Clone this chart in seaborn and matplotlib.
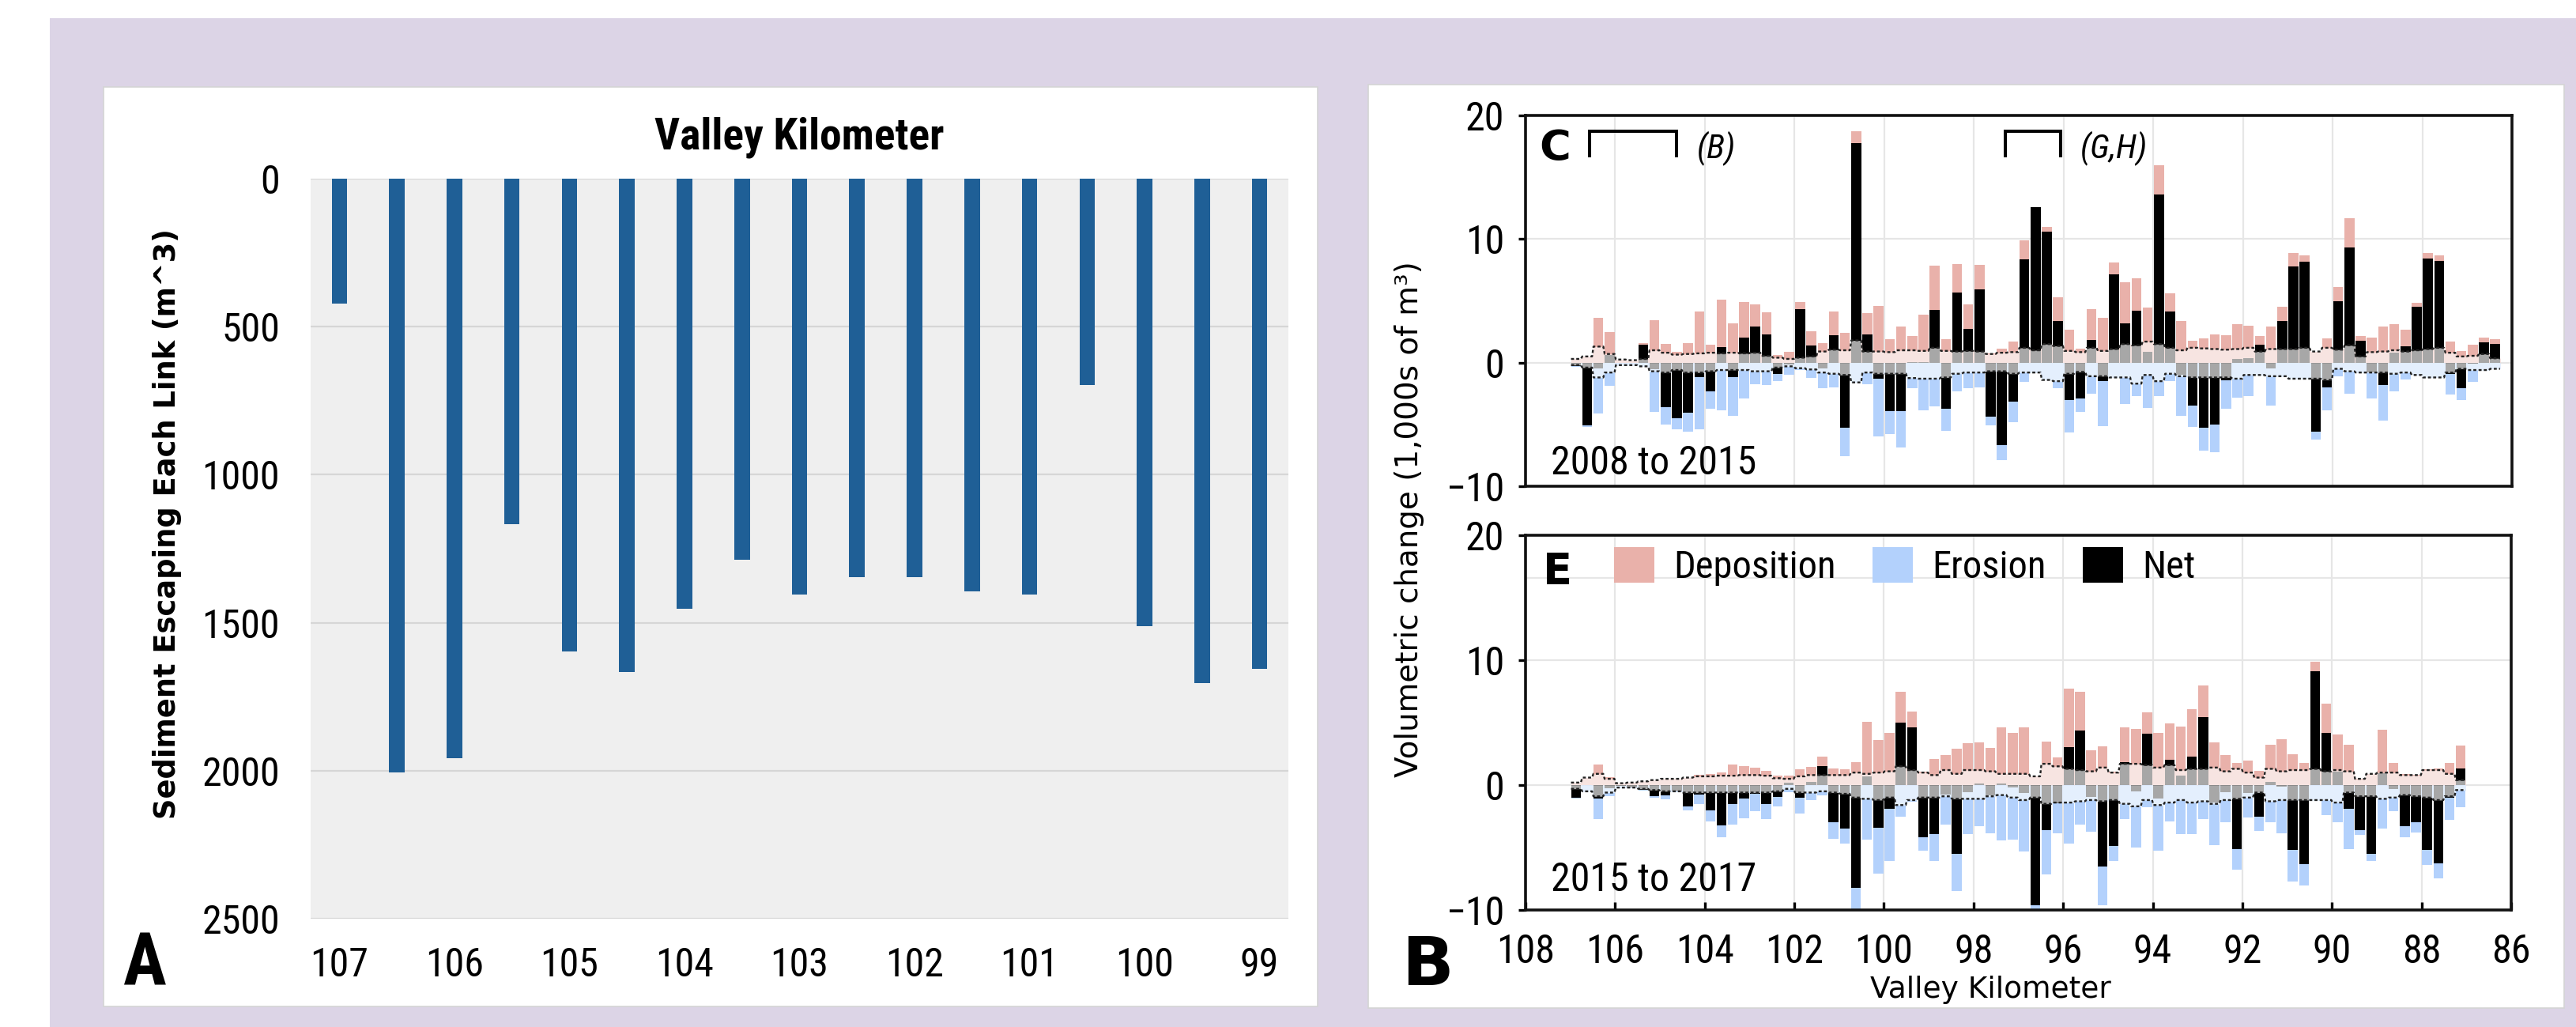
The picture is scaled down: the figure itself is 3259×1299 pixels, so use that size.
import numpy as np
import matplotlib
matplotlib.use("Agg")
import matplotlib.pyplot as plt
from matplotlib import font_manager as fm
from matplotlib.font_manager import FontProperties
import seaborn as sns
from matplotlib.patches import Rectangle, Patch

# ---------------- DATA ----------------
# Panel A: sediment escaping each link (m^3), links every 0.5 valley km
link_km_A = ["107", "106.5", "106", "105.5", "105", "104.5", "104", "103.5", "103",
             "102.5", "102", "101.5", "101", "100.5", "100", "99.5", "99"]
sediment_A = [422, 2005, 1957, 1166, 1597, 1668, 1453, 1287, 1405,
              1345, 1345, 1394, 1405, 697, 1512, 1704, 1656]
tick_labels_A = ["107", "106", "105", "104", "103", "102", "101", "100", "99"]
yticks_A = [0, 500, 1000, 1500, 2000, 2500]

# Panel B, C (2008 to 2015): values in 1,000s of m^3, bins every 0.25 km
km_C = np.round(106.875 - 0.25 * np.arange(83), 3)
dep_C = [0.2, 0.1, 3.65, 2.5, 0.1, 0.1, 1.55, 3.45, 1.5, 0.9, 1.6, 4.15, 1.45, 5.1, 3.15,
         4.9, 4.7, 4.1, 0.6, 0.85, 4.9, 2.55, 1.55, 4.15, 2.4, 18.7, 4.0, 4.6, 1.9, 2.95,
         2.15, 3.9, 7.85, 1.9, 8.0, 4.7, 7.9, 0.75, 1.15, 1.7, 9.9, 12.6, 10.95, 5.3, 2.65,
         1.1, 4.35, 3.65, 8.1, 6.5, 6.8, 4.45, 16.0, 5.6, 3.35, 1.75, 1.95, 2.3, 2.2, 3.1,
         3.0, 2.15, 2.95, 4.5, 8.85, 8.65, 0.7, 1.95, 6.15, 11.7, 2.15, 2.05, 2.9, 3.1,
         2.65, 4.85, 8.85, 8.7, 1.7, 0.95, 1.45, 2.0, 1.9]
ero_C = [-0.35, -5.2, -4.1, -1.9, -0.1, -0.1, -0.1, -4.0, -5.0, -5.4, -5.6, -5.4, -3.7, -3.85,
         -4.3, -2.9, -1.75, -1.8, -1.5, -1.0, -0.6, -1.25, -2.1, -2.0, -7.6, -1.0, -1.75, -6.0,
         -5.8, -6.85, -2.1, -3.85, -3.55, -5.5, -2.35, -2.05, -2.0, -5.05, -7.9, -4.8, -1.55,
         -0.1, -0.35, -2.05, -5.65, -4.0, -2.5, -5.15, -0.95, -3.35, -2.7, -3.65, -2.7, -1.5,
         -4.3, -5.2, -7.15, -7.25, -3.7, -2.85, -2.7, -0.7, -3.45, -1.1, -1.05, -0.5, -6.25,
         -3.85, -1.1, -2.5, -0.4, -2.9, -4.7, -2.3, -1.35, -0.3, -0.4, -0.5, -2.6, -3.05,
         -1.55, -0.35, -0.4]
net_C = [-0.3, -5.1, -0.45, 0.6, 0.0, 0.0, 1.45, -0.55, -3.6, -4.5, -4.05, -1.2, -2.3, 1.25,
         -1.15, 2.0, 2.95, 2.3, -0.9, -0.15, 4.3, 1.4, -0.5, 2.2, -5.25, 17.75, 2.3, -1.3,
         -3.95, -3.95, 0.05, 0.05, 4.25, -3.75, 5.65, 2.7, 5.95, -4.35, -6.7, -3.15, 8.35,
         12.55, 10.6, 3.35, -3.0, -2.9, 1.85, -1.5, 7.15, 3.15, 4.2, 0.85, 13.6, 4.15, -1.0,
         -3.5, -5.25, -5.0, -1.4, 0.3, 0.35, 1.45, -0.5, 3.4, 7.8, 8.15, -5.6, -2.0, 5.0,
         9.3, 1.75, -0.8, -1.8, 0.8, 1.35, 4.55, 8.45, 8.2, -0.9, -2.1, -0.1, 1.65, 1.5]
up_C = [0.3, 0.5, 1.3, 0.7, 0.25, 0.2, 0.3, 1.0, 0.8, 0.65, 0.7, 0.75, 0.8, 0.75, 0.8, 0.75,
        0.8, 0.55, 0.4, 0.3, 0.4, 0.5, 0.9, 1.05, 1.0, 1.8, 0.9, 0.9, 0.85, 1.0, 1.0, 0.95,
        1.2, 0.95, 0.9, 0.95, 0.9, 0.7, 0.8, 0.85, 1.2, 1.0, 1.5, 1.35, 0.95, 0.85, 1.2,
        0.95, 1.1, 1.5, 1.4, 1.7, 1.5, 1.2, 1.0, 1.2, 1.15, 1.1, 1.05, 1.1, 1.2, 0.9, 1.1,
        1.1, 1.1, 1.2, 0.9, 1.2, 1.05, 1.4, 0.5, 0.85, 0.9, 1.0, 0.9, 1.0, 1.1, 1.2, 0.8,
        0.5, 0.55, 0.7, 0.35]
lo_C = [-0.2, -0.4, -1.2, -0.8, -0.2, -0.2, -0.3, -0.7, -0.8, -0.6, -0.8, -0.8, -0.7, -0.6,
        -0.6, -0.6, -0.7, -0.7, -0.4, -0.3, -0.45, -0.55, -0.8, -0.9, -1.0, -1.6, -0.8, -0.9,
        -0.9, -0.9, -1.25, -1.3, -1.3, -1.2, -0.9, -0.8, -0.8, -0.7, -0.7, -0.9, -0.8, -0.8,
        -1.4, -1.5, -0.9, -0.75, -1.1, -1.1, -1.2, -1.2, -1.7, -1.0, -1.5, -0.9, -1.1, -1.2,
        -1.2, -1.2, -1.2, -1.3, -1.0, -1.0, -1.1, -1.1, -1.3, -1.3, -1.3, -1.4, -0.5, -0.7,
        -0.8, -0.8, -0.8, -0.9, -0.8, -1.0, -1.2, -1.2, -0.8, -0.5, -0.6, -0.6, -0.5]

# Panel B, E (2015 to 2017)
km_E = np.round(106.875 - 0.25 * np.arange(80), 3)
dep_E = [0.05, 0.2, 1.65, 0.65, 0.1, 0.05, 0.05, 0.1, 0.3, 0.1, 0.3, 0.8, 0.9, 1.0, 1.65,
         1.55, 1.4, 1.15, 0.75, 0.75, 1.25, 1.45, 2.3, 1.3, 1.25, 1.85, 5.05, 3.6, 4.15, 7.5,
         5.9, 1.1, 2.1, 2.4, 2.9, 3.35, 3.4, 3.0, 4.6, 4.15, 4.65, 0.35, 3.5, 2.2, 7.7, 7.45,
         2.8, 3.1, 1.1, 4.6, 4.5, 5.8, 4.2, 4.95, 4.7, 6.1, 8.0, 3.4, 2.4, 1.8, 1.95, 1.15,
         3.25, 3.7, 2.5, 1.75, 9.85, 6.55, 4.05, 3.25, 0.5, 0.55, 4.45, 1.8, 0.9, 0.8, 1.25,
         1.3, 1.8, 3.15]
ero_E = [-1.05, -0.2, -2.75, -0.9, -0.15, -0.25, -0.45, -1.0, -1.15, -0.6, -2.0, -1.55, -2.9,
         -4.2, -3.15, -2.65, -2.1, -2.7, -1.7, -0.55, -2.25, -1.2, -0.8, -4.3, -4.7, -10.0,
         -4.35, -7.1, -6.1, -2.55, -1.3, -5.25, -6.05, -3.15, -8.45, -3.95, -3.3, -3.85, -4.45,
         -4.35, -5.3, -9.95, -7.15, -3.85, -4.7, -3.15, -3.75, -9.6, -6.05, -2.75, -5.0, -1.75,
         -5.25, -2.9, -3.95, -3.95, -2.7, -4.8, -2.95, -6.8, -2.6, -3.65, -3.0, -3.85, -7.7,
         -8.05, -0.75, -2.4, -3.0, -5.15, -4.0, -6.05, -3.5, -2.1, -4.15, -3.8, -6.4, -7.45,
         -2.8, -1.8]
net_E = [-1.0, 0.0, -1.1, -0.25, -0.05, -0.2, -0.4, -0.9, -0.85, -0.5, -1.7, -0.75, -2.0,
         -3.2, -1.5, -1.1, -0.7, -1.55, -0.95, 0.2, -1.0, 0.25, 1.55, -3.0, -3.45, -8.2, 0.7,
         -3.4, -1.9, 5.0, 4.6, -4.15, -3.95, -0.75, -5.5, -0.6, 0.1, -0.85, 0.15, -0.2, -0.65,
         -9.6, -3.6, -1.45, 3.05, 4.35, -0.95, -6.5, -4.9, 1.85, -0.5, 4.1, -1.05, 2.0, 0.75,
         2.3, 5.45, -1.4, -0.55, -5.1, -0.65, -2.5, 0.25, -0.15, -5.2, -6.3, 9.1, 4.2, 1.05,
         -1.9, -3.6, -5.5, 0.95, -0.3, -3.3, -3.0, -5.2, -6.25, -1.0, 1.35]
up_E = [0.2, 0.6, 0.9, 0.5, 0.15, 0.2, 0.3, 0.4, 0.5, 0.5, 0.6, 0.7, 0.7, 0.75, 0.75, 0.8,
        0.8, 0.75, 0.55, 0.5, 0.7, 0.8, 0.8, 0.8, 0.8, 1.0, 0.9, 1.0, 1.1, 1.5, 1.2, 1.0, 0.8,
        1.2, 0.9, 1.2, 1.2, 1.1, 0.9, 0.9, 0.9, 0.7, 1.7, 1.5, 1.3, 1.2, 1.1, 1.4, 1.0, 1.7,
        1.7, 1.6, 1.4, 1.6, 1.2, 1.3, 1.3, 1.4, 1.1, 1.3, 1.0, 0.6, 1.3, 1.1, 1.2, 1.2, 1.3,
        1.1, 1.2, 1.1, 0.5, 0.9, 1.0, 1.0, 0.8, 0.8, 1.2, 1.2, 0.9, 0.4]
lo_E = [-0.3, -0.5, -0.9, -0.6, -0.2, -0.2, -0.3, -0.4, -0.5, -0.5, -0.6, -0.6, -0.6, -0.6,
        -0.6, -0.6, -0.6, -0.6, -0.5, -0.3, -0.6, -0.6, -0.5, -0.6, -0.7, -1.0, -1.1, -1.2,
        -1.0, -1.6, -1.2, -1.0, -1.0, -0.9, -1.1, -1.1, -1.1, -0.9, -0.8, -1.0, -1.2, -1.0,
        -1.5, -1.4, -1.4, -1.3, -1.2, -1.3, -1.2, -1.5, -1.7, -1.2, -1.6, -1.4, -1.2, -1.4,
        -1.3, -1.5, -1.2, -1.1, -1.0, -0.6, -1.3, -1.2, -1.2, -1.2, -1.2, -1.2, -1.4, -0.6,
        -0.9, -0.9, -1.1, -1.0, -0.8, -0.9, -1.0, -1.2, -0.9, -0.4]

xticks_B = [108, 106, 104, 102, 100, 98, 96, 94, 92, 90, 88, 86]
yticks_B = [-10, 0, 10, 20]
ytick_labels_B = ["\u221210", "0", "10", "20"]
legend_labels = ["Deposition", "Erosion", "Net"]
bracket_B = (106.57, 104.63)
bracket_GH = (97.3, 96.07)

# ---------------- FONTS ----------------
plt.rcParams["font.family"] = ["DejaVu Sans"]
_names = {f.name for f in fm.fontManager.ttflist}
_cands = ["Roboto Condensed", "Liberation Sans Narrow", "DejaVu Sans Condensed",
          "Noto Sans Condensed", "Open Sans Condensed", "Arial Narrow"]
NARROW_NAME = next((c for c in _cands if c in _names), None)
NARROW_STRETCH = "normal"
if NARROW_NAME is None:
    for f in fm.fontManager.ttflist:
        if f.name in ("Noto Sans", "Open Sans", "DejaVu Sans", "Roboto", "Inter") and \
                f.stretch in ("condensed", "semi-condensed", "extra-condensed"):
            NARROW_NAME, NARROW_STRETCH = f.name, f.stretch
            break
if NARROW_NAME is None:
    NARROW_NAME = "Liberation Sans"
NARROW = [NARROW_NAME, "DejaVu Sans"]


def nfp(size, weight="normal", style="normal"):
    return FontProperties(family=NARROW, size=size, weight=weight, style=style,
                          stretch=NARROW_STRETCH)


# ---------------- STYLE ----------------
W, H, DPI = 3259, 1299, 100
LAV = "#dcd4e6"
BAR_A = "#1f5f96"
PINK = "#e9b1aa"
BLUE = "#b3d1fc"
GRID = "#e6e6e6"

fig = plt.figure(figsize=(W / DPI, H / DPI), dpi=DPI, facecolor="white")


def fx(px):
    return px / W


def fy(py):
    return 1 - py / H


def axes_rect(x0, y0, x1, y1):
    return [fx(x0), fy(y1), (x1 - x0) / W, (y1 - y0) / H]


# backgrounds
fig.patches.append(Rectangle((fx(63), 0), 1 - fx(63), fy(23), transform=fig.transFigure,
                             facecolor=LAV, edgecolor="none", zorder=-10))
fig.patches.append(Rectangle((fx(131), fy(1273)), (1667 - 131) / W, (1273 - 110) / H,
                             transform=fig.transFigure, facecolor="white",
                             edgecolor="#d4d4d4", lw=1.2, zorder=-9))
fig.patches.append(Rectangle((fx(1731), fy(1275)), (3244 - 1731) / W, (1275 - 107) / H,
                             transform=fig.transFigure, facecolor="white",
                             edgecolor="#d4d4d4", lw=1.2, zorder=-9))

# ---------------- PANEL A ----------------
axA = fig.add_axes(axes_rect(393, 226, 1630, 1162))
axA.set_facecolor("#efefef")
sns.barplot(x=link_km_A, y=sediment_A, order=link_km_A, color=BAR_A, saturation=1,
            width=0.27, errorbar=None, ax=axA, zorder=3, edgecolor="none", linewidth=0)
axA.set_ylim(2500, 0)
axA.set_xlim(-0.5, len(link_km_A) - 0.5)
axA.set_yticks(yticks_A)
axA.set_yticklabels([str(v) for v in yticks_A], fontproperties=nfp(36))
axA.set_xticks(range(0, len(link_km_A), 2))
axA.set_xticklabels(tick_labels_A, fontproperties=nfp(36))
axA.tick_params(axis="y", length=0, pad=28)
axA.tick_params(axis="x", length=0, pad=25)
axA.grid(axis="y", color="#d6d6d6", lw=1.6, zorder=0)
axA.set_axisbelow(True)
for s in axA.spines.values():
    s.set_visible(False)
axA.set_xlabel("")
axA.set_ylabel("")
fig.text(fx(1011), fy(189), "Valley Kilometer", ha="center", va="baseline",
         fontproperties=nfp(40, weight="bold"))
fig.text(fx(211), fy(663), "Sediment Escaping Each Link (m^3)", rotation=90,
         ha="center", va="center", fontsize=26.5, fontweight="bold")
fig.text(fx(155), fy(1247), "A", ha="left", va="baseline", fontproperties=nfp(66, weight="bold"))


# ---------------- PANEL B ----------------
def step_xy(km, vals, half=0.11):
    km = np.asarray(km)
    xs = np.column_stack([km + half, km - half]).ravel()
    ys = np.repeat(np.asarray(vals, dtype=float), 2)
    return xs, ys


def draw_change(ax, km, dep, ero, net, up, lo):
    xs, yu = step_xy(km, up)
    _, yl = step_xy(km, lo)
    ax.fill_between(xs, 0, yu, color=PINK, lw=0, zorder=1)
    ax.fill_between(xs, 0, yl, color=BLUE, lw=0, zorder=1)
    sns.barplot(x=km, y=dep, native_scale=True, orient="x", width=0.88, color=PINK,
                saturation=1, errorbar=None, ax=ax, zorder=2, edgecolor="none", linewidth=0)
    sns.barplot(x=km, y=ero, native_scale=True, orient="x", width=0.88, color=BLUE,
                saturation=1, errorbar=None, ax=ax, zorder=2, edgecolor="none", linewidth=0)
    sns.barplot(x=km, y=net, native_scale=True, orient="x", width=0.88, color="black",
                saturation=1, errorbar=None, ax=ax, zorder=3, edgecolor="none", linewidth=0)
    ax.fill_between(xs, 0, yu, color="white", alpha=0.66, lw=0, zorder=4)
    ax.fill_between(xs, 0, yl, color="white", alpha=0.66, lw=0, zorder=4)
    ax.plot(xs, yu, color="#222222", lw=1.7, ls=(0, (1.6, 1.2)), zorder=5)
    ax.plot(xs, yl, color="#222222", lw=1.7, ls=(0, (1.6, 1.2)), zorder=5)


def style_B(ax, show_x):
    ax.set_xlim(108, 86)
    ax.set_ylim(-10, 20)
    ax.set_xticks(xticks_B)
    ax.set_yticks(yticks_B)
    ax.set_yticklabels(ytick_labels_B, fontproperties=nfp(36))
    ax.tick_params(axis="y", direction="out", length=6.5, width=2.4, pad=13)
    if show_x:
        ax.set_xticklabels([str(v) for v in xticks_B], fontproperties=nfp(36))
        ax.tick_params(axis="x", direction="in", length=7, width=2.4, pad=21)
    else:
        ax.tick_params(axis="x", length=0, labelbottom=False)
    ax.grid(True, color=GRID, lw=1.6, zorder=0)
    ax.set_axisbelow(True)
    for s in ax.spines.values():
        s.set_linewidth(2.6)
        s.set_color("#111111")
    ax.set_xlabel("")
    ax.set_ylabel("")


axC = fig.add_axes(axes_rect(1930, 146, 3178, 615))
draw_change(axC, km_C, dep_C, ero_C, net_C, up_C, lo_C)
style_B(axC, False)
axC.text(0.014, 0.878, "C", transform=axC.transAxes, fontsize=39, fontweight="bold",
         ha="left", va="baseline")
axC.text(0.026, 0.032, "2008 to 2015", transform=axC.transAxes, fontproperties=nfp(36),
         ha="left", va="baseline")
for (a, b), lab in [(bracket_B, "(B)"), (bracket_GH, "(G,H)")]:
    axC.plot([a, a, b, b], [16.6, 18.7, 18.7, 16.6], color="black", lw=2.9,
             solid_joinstyle="miter", solid_capstyle="butt", zorder=6)
    axC.text(b - 0.45, 17.4, lab, fontproperties=nfp(31, style="italic"),
             ha="left", va="center", zorder=6)

axE = fig.add_axes(axes_rect(1930, 677, 3177, 1151))
draw_change(axE, km_E, dep_E, ero_E, net_E, up_E, lo_E)
style_B(axE, True)
axE.axhline(16.6, color=GRID, lw=1.6, zorder=0.5)
axE.text(0.018, 0.871, "E", transform=axE.transAxes, fontsize=39, fontweight="bold",
         ha="left", va="baseline")
axE.text(0.026, 0.05, "2015 to 2017", transform=axE.transAxes, fontproperties=nfp(36),
         ha="left", va="baseline")
handles = [Patch(facecolor=PINK, edgecolor="none"), Patch(facecolor=BLUE, edgecolor="none"),
           Patch(facecolor="black", edgecolor="none")]
axE.legend(handles, legend_labels, loc="center left", bbox_to_anchor=(0.09, 0.916), ncol=3,
           frameon=False, prop=nfp(35), handlelength=1.05,
           handleheight=1.05, handletextpad=0.5, columnspacing=0.95, borderpad=0,
           borderaxespad=0)

fig.text(fx(1783), fy(657), "Volumetric change (1,000s of m\u00b3)", rotation=90,
         ha="center", va="center", fontsize=28)
fig.text(fx(2518), fy(1262), "Valley Kilometer", ha="center", va="baseline", fontsize=27)
fig.text(fx(1773), fy(1246), "B", ha="left", va="baseline", fontsize=62, fontweight="bold")

fig.savefig("out.png", dpi=DPI, facecolor="white")
